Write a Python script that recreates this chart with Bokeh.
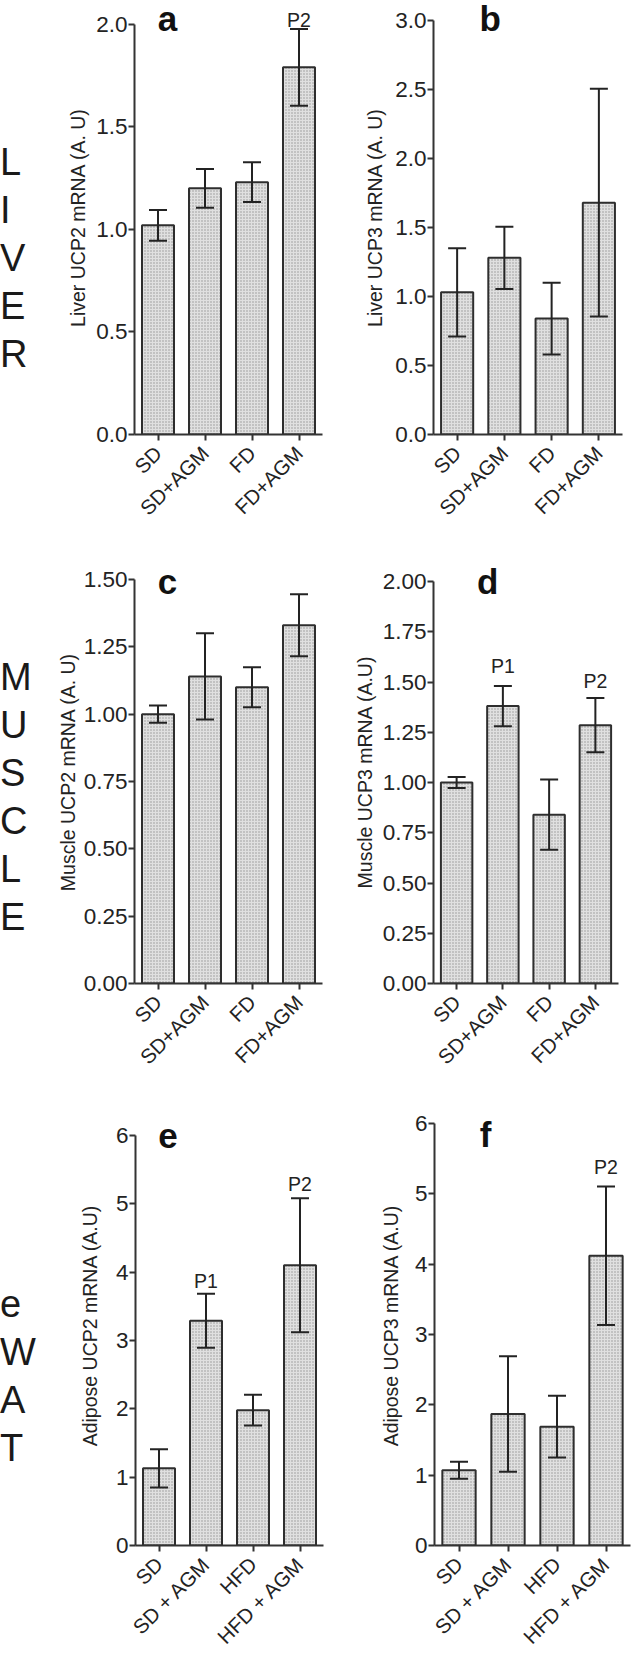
import math
from bokeh.plotting import figure
from bokeh.layouts import row, column
from bokeh.models import (FactorRange, Range1d, FixedTicker, Whisker, ColumnDataSource,
                          Label, Div, TeeHead)
from bokeh.embed import file_html
from bokeh.resources import INLINE

FONT = "Liberation Sans"
INK = "#232323"

# ---------------- data ----------------
liver_cats = ["SD", "SD+AGM", "FD", "FD+AGM"]
muscle_cats = ["SD", "SD+AGM", "FD", "FD+AGM"]
wat_cats = ["SD", "SD + AGM", "HFD", "HFD + AGM"]

a_mean = [1.02, 1.20, 1.23, 1.79]
a_err = [0.075, 0.095, 0.097, 0.187]
b_mean = [1.03, 1.28, 0.84, 1.68]
b_err = [0.32, 0.225, 0.26, 0.825]
c_mean = [1.00, 1.14, 1.10, 1.33]
c_err = [0.032, 0.16, 0.074, 0.115]
d_mean = [1.00, 1.38, 0.84, 1.285]
d_err = [0.027, 0.10, 0.175, 0.135]
e_mean = [1.13, 3.29, 1.98, 4.10]
e_err = [0.28, 0.395, 0.225, 0.98]
f_mean = [1.07, 1.87, 1.69, 4.12]
f_err = [0.12, 0.82, 0.44, 0.985]

a_ticks = [0.0, 0.5, 1.0, 1.5, 2.0]
a_tick_labels = ["0.0", "0.5", "1.0", "1.5", "2.0"]
b_ticks = [0.0, 0.5, 1.0, 1.5, 2.0, 2.5, 3.0]
b_tick_labels = ["0.0", "0.5", "1.0", "1.5", "2.0", "2.5", "3.0"]
c_ticks = [0.0, 0.25, 0.5, 0.75, 1.0, 1.25, 1.5]
c_tick_labels = ["0.00", "0.25", "0.50", "0.75", "1.00", "1.25", "1.50"]
d_ticks = [0.0, 0.25, 0.5, 0.75, 1.0, 1.25, 1.5, 1.75, 2.0]
d_tick_labels = ["0.00", "0.25", "0.50", "0.75", "1.00", "1.25", "1.50", "1.75", "2.00"]
e_ticks = [0, 1, 2, 3, 4, 5, 6]
e_tick_labels = ["0", "1", "2", "3", "4", "5", "6"]
f_ticks = [0, 1, 2, 3, 4, 5, 6]
f_tick_labels = ["0", "1", "2", "3", "4", "5", "6"]

a_ylabel = "Liver UCP2 mRNA (A. U)"
b_ylabel = "Liver UCP3 mRNA (A. U)"
c_ylabel = "Muscle UCP2 mRNA (A. U)"
d_ylabel = "Muscle UCP3 mRNA (A.U)"
e_ylabel = "Adipose UCP2 mRNA (A.U)"
f_ylabel = "Adipose UCP3 mRNA (A.U)"

# significance marks: (bar index, text)
a_marks = [(3, "P2")]
b_marks = []
c_marks = []
d_marks = [(1, "P1"), (3, "P2")]
e_marks = [(1, "P1"), (3, "P2")]
f_marks = [(3, "P2")]

row_letters = ["LIVER", "MUSCLE", "eWAT"]


def panel(cats, mean, err, ticks, tick_labels, ylabel, letter, marks,
          width, left, right, row_top, row_h, tick_top_px, zero_px, label_standoff,
          letter_pos, mark_offsets):
    frame_h = int(round(zero_px - row_top))
    top_val = ticks[-1]
    y_end = top_val * frame_h / (zero_px - tick_top_px)
    p = figure(x_range=FactorRange(*cats, range_padding=0),
               y_range=Range1d(0, y_end),
               width=width, height=row_h,
               min_border_left=left, min_border_right=right,
               min_border_top=0, min_border_bottom=row_h - frame_h,
               output_backend="svg", toolbar_location=None,
               outline_line_color=None, background_fill_color="white",
               border_fill_color="white")
    p.xgrid.visible = False
    p.ygrid.visible = False

    src = ColumnDataSource(dict(x=cats, top=mean,
                                upper=[m + e for m, e in zip(mean, err)],
                                lower=[m - e for m, e in zip(mean, err)]))
    p.vbar(x="x", top="top", bottom=0, width=0.68, source=src,
           fill_color="#e0e0e0", hatch_pattern="dot", hatch_color="#959595",
           hatch_scale=3, hatch_weight=1,
           line_color="#2e2e2e", line_width=2)
    w = Whisker(base="x", upper="upper", lower="lower", source=src,
                line_color=INK, line_width=2, level="overlay",
                upper_head=TeeHead(size=18, line_color=INK, line_width=2),
                lower_head=TeeHead(size=18, line_color=INK, line_width=2))
    p.add_layout(w)

    for (i, txt), off in zip(marks, mark_offsets):
        p.add_layout(Label(x=i + 0.5, y=mean[i] + err[i], y_offset=off, text=txt,
                           text_align="center", text_baseline="alphabetic",
                           text_font=FONT, text_font_size="19.5px", text_color=INK))

    lx, ly = letter_pos
    p.add_layout(Label(x=lx, y=ly, y_offset=9, text=letter, text_align="center",
                       text_baseline="alphabetic", text_font=FONT,
                       text_font_size="35px", text_font_style="bold",
                       text_color="#111111"))

    for ax in (p.xaxis, p.yaxis):
        ax.axis_line_width = 2
        ax.axis_line_color = "#333333"
        ax.major_tick_line_width = 2
        ax.major_tick_line_color = "#333333"
        ax.major_tick_in = 0
        ax.major_tick_out = 6
        ax.minor_tick_line_color = None
        ax.major_label_text_font = FONT
        ax.major_label_text_color = INK

    p.yaxis.bounds = (0, top_val)
    p.yaxis.ticker = FixedTicker(ticks=ticks)
    p.yaxis.major_label_overrides = dict(zip(ticks, tick_labels))
    p.yaxis.major_label_text_font_size = "22.5px"
    p.yaxis.major_label_standoff = 1
    p.yaxis.axis_label = ylabel
    p.yaxis.axis_label_text_font = FONT
    p.yaxis.axis_label_text_font_size = "19.5px"
    p.yaxis.axis_label_text_font_style = "normal"
    p.yaxis.axis_label_text_color = INK
    p.yaxis.axis_label_standoff = label_standoff

    p.xaxis.major_label_orientation = math.pi / 4
    p.xaxis.major_label_text_font_size = "20.5px"
    p.xaxis.major_label_standoff = 9
    return p


def letters_div(word, height, pad_top):
    html = ('<div style="font-family:\'Liberation Sans\',Arial,sans-serif;font-size:38px;'
            'line-height:48px;color:#1a1a1a;margin:0;padding-top:%dpx;">' % pad_top
            + "<br>".join(list(word)) + "</div>")
    return Div(text=html, width=44, height=height, margin=(0, 0, 0, 0))


R1, H1 = 0, 560
R2, H2 = 560, 545
R3, H3 = 1105, 560

pa = panel(liver_cats, a_mean, a_err, a_ticks, a_tick_labels, a_ylabel, "a", a_marks,
           296, 90, 18, R1, H1, 24, 438, 4, (0.7, 1.985), [9])
pb = panel(liver_cats, b_mean, b_err, b_ticks, b_tick_labels, b_ylabel, "b", b_marks,
           284, 93, 2, R1, H1, 20, 434, 6, (1.2, 2.949), [])
pc = panel(muscle_cats, c_mean, c_err, c_ticks, c_tick_labels, c_ylabel, "c", c_marks,
           296, 90, 18, R2, H2, 579, 983, 2, (0.7, 1.459), [])
pd_ = panel(muscle_cats, d_mean, d_err, d_ticks, d_tick_labels, d_ylabel, "d", d_marks,
            284, 93, 6, R2, H2, 581, 983, 4, (1.17, 1.955), [20, 17])
pe = panel(wat_cats, e_mean, e_err, e_ticks, e_tick_labels, e_ylabel, "e", e_marks,
           296, 91, 17, R3, H3, 1135, 1545, 12, (0.69, 5.854), [13, 14])
pf = panel(wat_cats, f_mean, f_err, f_ticks, f_tick_labels, f_ylabel, "f", f_marks,
           292, 94, 2, R3, H3, 1123, 1546, 10, (1.04, 5.716), [19])

layout = column(
    row(letters_div(row_letters[0], H1, 138), pa, pb),
    row(letters_div(row_letters[1], H2, 93), pc, pd_),
    row(letters_div(row_letters[2], H3, 175), pe, pf),
)

open("out.html", "w").write(file_html(layout, INLINE))
